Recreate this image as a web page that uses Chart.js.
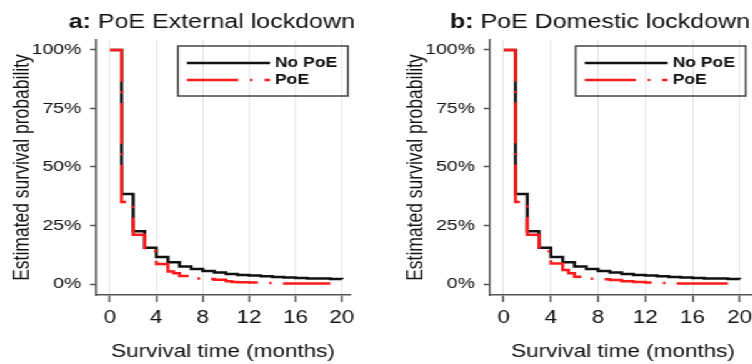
<!DOCTYPE html>
<html>
<head>
<meta charset="utf-8">
<script src="https://cdn.jsdelivr.net/npm/chart.js@4.4.1/dist/chart.umd.min.js"></script>
<style>
  html, body { margin: 0; padding: 0; background: #fff; overflow: hidden; }
  #wrap { position: relative; width: 602px; height: 364px; transform: scaleX(1.25); transform-origin: 0 0; }
  canvas { position: absolute; top: 0; }
</style>
</head>
<body>
<div id="wrap">
  <canvas id="chartA" width="300" height="364" style="left:0"></canvas>
  <canvas id="chartB" width="300" height="364" style="left:315px"></canvas>
</div>
<script>
const FONT = '"Liberation Sans", Arial, sans-serif';
const INK = '#111';

// Kaplan-Meier curves (months, % still surviving)
const timesNoPoE = [0, 1, 2, 3, 4, 5, 6, 7, 8, 9, 10, 11, 12, 13, 14, 15, 16, 17, 18, 19, 20];
const survNoPoE  = [100, 38.5, 22.5, 15.5, 11.5, 9.3, 7.5, 6.4, 5.6, 4.9, 4.3, 3.9, 3.6, 3.3, 3.0, 2.8, 2.6, 2.4, 2.3, 2.1, 2.0];

const timesPoEExternal = [0, 1, 2, 3, 4, 5, 5.5, 6, 7, 8, 9, 10, 10.5, 11, 12, 13, 14.5, 19];
const survPoEExternal  = [100, 35, 21, 14, 8.5, 5.3, 4.6, 3.4, 2.4, 2.1, 1.8, 1.2, 0.9, 0.8, 0.6, 0.4, 0.2, 0.2];

const timesPoEDomestic = [0, 1, 2, 3, 4, 5, 5.5, 6, 7, 8, 9, 10, 11, 12, 13, 14.5, 20];
const survPoEDomestic  = [100, 35, 21, 14, 8.8, 6, 4.6, 3.1, 2.2, 2.0, 1.7, 1.2, 0.9, 0.6, 0.4, 0.2, 0.2];

const seriesLabels = ['No PoE', 'PoE'];
const xTicks = [0, 4, 8, 12, 16, 20];
const yTicks = [0, 25, 50, 75, 100];
const xTitle = 'Survival time (months)';
const yTitle = 'Estimated survival probability';

function toPoints(times, values) {
  return times.map((t, i) => ({ x: t, y: values[i] }));
}

// panel title with bold letter + framed legend, drawn on the canvas
const panelDecor = {
  id: 'panelDecor',
  afterDraw(chart, args, opts) {
    const ctx = chart.ctx;
    ctx.save();
    ctx.fillStyle = INK;
    ctx.textAlign = 'left';
    ctx.textBaseline = 'alphabetic';
    ctx.font = 'bold 20px ' + FONT;
    ctx.fillText(opts.tag, opts.titleX, 27.5);
    const w = ctx.measureText(opts.tag).width;
    ctx.font = '20px ' + FONT;
    ctx.fillText(' ' + opts.title, opts.titleX + w, 27.5);

    const b = opts.box;
    ctx.strokeStyle = '#444';
    ctx.lineWidth = 1.5;
    ctx.strokeRect(b.x, b.y, b.w, b.h);
    chart.data.datasets.forEach((ds, i) => {
      const y = b.y + 17 + i * 17;
      ctx.strokeStyle = ds.borderColor;
      ctx.lineWidth = ds.borderWidth;
      ctx.setLineDash(ds.borderDash || []);
      ctx.beginPath();
      ctx.moveTo(b.x + 7.2, y);
      ctx.lineTo(b.x + 73.6, y);
      ctx.stroke();
      ctx.setLineDash([]);
      ctx.fillStyle = INK;
      ctx.font = 'bold 14px ' + FONT;
      ctx.textBaseline = 'middle';
      ctx.fillText(ds.label, b.x + 77.6, y + 0.5);
    });
    ctx.restore();
  }
};

function makePanel(id, tag, title, redTimes, redSurv, p) {
  return new Chart(document.getElementById(id), {
    type: 'line',
    data: {
      datasets: [
        {
          label: seriesLabels[0],
          data: toPoints(timesNoPoE, survNoPoE),
          borderColor: '#111',
          borderWidth: 2.5,
          stepped: true,
          pointRadius: 0,
          order: 2
        },
        {
          label: seriesLabels[1],
          data: toPoints(redTimes, redSurv),
          borderColor: '#ff1a1a',
          borderWidth: 2.5,
          borderDash: [41, 9.5, 2, 9.5],
          stepped: true,
          pointRadius: 0,
          order: 1
        }
      ]
    },
    options: {
      responsive: false,
      animation: false,
      layout: { padding: { top: 40, right: p.padRight, bottom: 1, left: 0 } },
      plugins: {
        legend: { display: false },
        tooltip: { enabled: false },
        panelDecor: { tag: tag, title: title, titleX: p.titleX, box: p.box }
      },
      scales: {
        x: {
          type: 'linear',
          min: p.xMin,
          max: p.xMax,
          afterBuildTicks: s => { s.ticks = xTicks.map(v => ({ value: v })); },
          afterFit: s => { s.height = 68; },
          grid: { color: '#e4e4e4', lineWidth: 1, tickLength: 7, tickColor: '#555', tickWidth: 1.5 },
          border: { display: true, color: '#555', width: 1.5 },
          ticks: { color: INK, font: { family: FONT, size: 18 }, padding: 5, maxRotation: 0 },
          title: { display: true, text: xTitle, color: INK, font: { family: FONT, size: 18 }, padding: 0 }
        },
        y: {
          min: -4.7,
          max: 104.27,
          afterBuildTicks: s => { s.ticks = yTicks.map(v => ({ value: v })); },
          afterFit: s => { s.width = 77; },
          grid: { drawOnChartArea: false, tickLength: 5, tickColor: '#555', tickWidth: 1.5 },
          border: { display: true, color: '#555', width: 1.5 },
          ticks: { color: INK, font: { family: FONT, size: 15.5 }, padding: 7, callback: v => v + '%' },
          title: { display: true, text: yTitle, color: INK, font: { family: FONT, size: 17.5 }, padding: { top: 8, bottom: 0 } }
        }
      }
    },
    plugins: [panelDecor]
  });
}

makePanel('chartA', 'a:', 'PoE External lockdown', timesPoEExternal, survPoEExternal,
  { xMin: -1.185, xMax: 20.69, padRight: 20, titleX: 55, box: { x: 142.4, y: 46, w: 136, h: 50 } });
makePanel('chartB', 'b:', 'PoE Domestic lockdown', timesPoEDomestic, survPoEDomestic,
  { xMin: -1.165, xMax: 21.4, padRight: 10, titleX: 45, box: { x: 145.6, y: 46, w: 136, h: 50 } });
</script>
</body>
</html>
